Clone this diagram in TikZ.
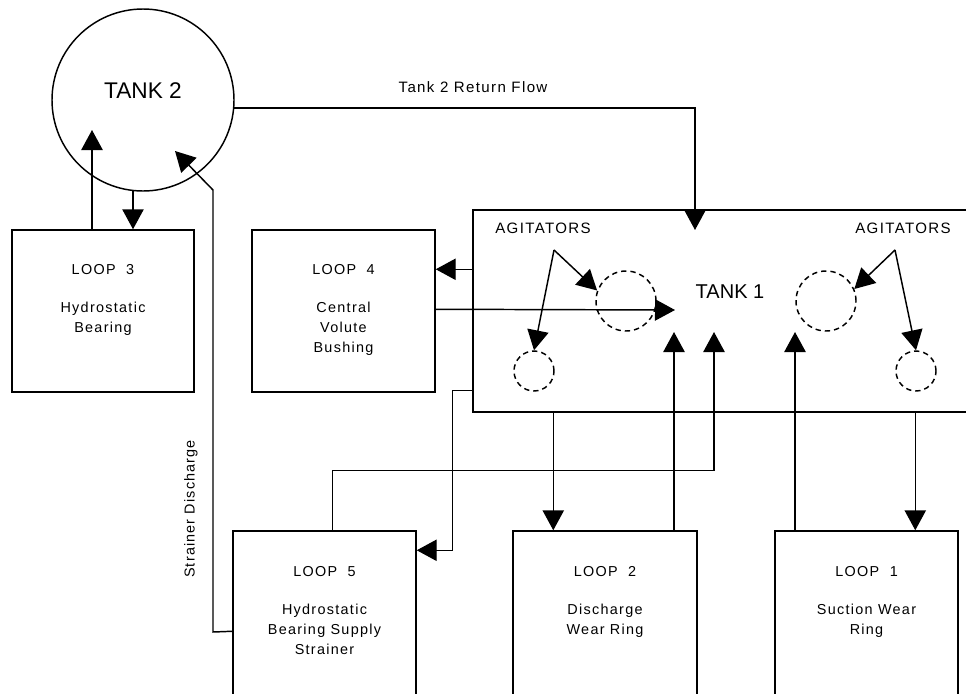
\documentclass[tikz,border=0pt]{standalone}
\usepackage{fontspec}
\setmainfont{Liberation Sans}
\usetikzlibrary{arrows.meta,calc,fit}
\begin{document}
\begin{tikzpicture}[x=0.75pt,y=-0.75pt,line width=1.1pt,
  arr/.style={-{Triangle[length=15pt,width=16pt]}},
  box/.style={draw,inner sep=0pt},
  dcirc/.style={draw,circle,inner sep=0pt,dash pattern=on 4pt off 3pt},
  looptxt/.style={align=center,anchor=north,inner sep=0pt,
    font=\fontsize{10.8}{15}\selectfont\addfontfeatures{LetterSpace=9}},
  lbl/.style={inner sep=0pt,font=\fontsize{11.3}{13}\selectfont\addfontfeatures{LetterSpace=9}},
  bigtxt/.style={inner sep=0pt}]
\clip (0,0) rectangle (966,693);
% tanks
\node[draw,circle,inner sep=0pt,minimum size=136.5pt] (t2) at (143,100) {};
\node[bigtxt,font=\fontsize{17}{20}\selectfont] (t2lbl) at (143,91) {TANK 2};
\node[box,fit={(473,210) (975,412)}] (t1) {};
\node[bigtxt,font=\fontsize{15}{18}\selectfont] (t1lbl) at (730,292) {TANK 1};
% loop boxes
\node[box,fit={(12,230) (194,392)}] (l3) {};
\node[box,fit={(252,230) (435,392)}] (l4) {};
\node[box,fit={(233,531) (416,700)}] (l5) {};
\node[box,fit={(513,531) (697,700)}] (l2) {};
\node[box,fit={(775,531) (958,700)}] (l1) {};
\node[looptxt] (l3t) at ($(l3.north)+(0,34)$) {LOOP\ \ 3\\[14pt]Hydrostatic\\Bearing};
\node[looptxt] (l4t) at ($(l4.north)+(0,34)$) {LOOP\ \ 4\\[14pt]Central\\Volute\\Bushing};
\node[looptxt] (l5t) at ($(l5.north)+(0,35)$) {LOOP\ \ 5\\[14pt]Hydrostatic\\Bearing Supply\\Strainer};
\node[looptxt] (l2t) at ($(l2.north)+(0,35)$) {LOOP\ \ 2\\[14pt]Discharge\\Wear Ring};
\node[looptxt] (l1t) at ($(l1.north)+(0,35)$) {LOOP\ \ 1\\[14pt]Suction Wear\\Ring};
% agitators
\node[dcirc,minimum size=45pt] (lbig) at (626,301) {};
\node[dcirc,minimum size=30pt] (lsmall) at (534,371) {};
\node[dcirc,minimum size=45pt] (rbig) at (826,301) {};
\node[dcirc,minimum size=30pt] (rsmall) at (916,371) {};
\node[lbl] (agtl) at (543,228) {AGITATORS};
\node[lbl] (agtr) at (903,228) {AGITATORS};
\coordinate (agl) at (554,250);
\coordinate (agr) at (895,250);
\draw[arr] (agl) -- (lbig.160);
\draw[arr] (agl) -- (lsmall.north);
\draw[arr] (agr) -- (rbig.23);
\draw[arr] (agr) -- (rsmall.north);
% tank 2 / loop 3
\coordinate (t2in1) at (92,130);
\draw[arr] (t2in1 |- l3.north) -- (t2in1);
\coordinate (t2out) at ($(t2.center)+(-10,90.5)$);
\draw[arr] (t2out) -- (t2out |- l3.north);
% return flow
\coordinate (t2r) at ($(t2.center)+(90.6,8)$);
\coordinate (rtip) at (695,230);
\draw[arr] (t2r) -| (rtip);
\node[lbl] (rflbl) at (473,87) {Tank 2 Return Flow};
% strainer discharge
\coordinate (t2in2) at (175,151);
\draw[arr] ($(l5.north west)+(0,101)$) -- (213,632) -- (213,190) -- (t2in2);
\node[lbl,rotate=90,font=\fontsize{10.8}{13}\selectfont\addfontfeatures{LetterSpace=8}] (sdlbl) at (191,509) {Strainer Discharge};
% loop 4
\draw[arr] ($(t1.north west)+(0,60)$) -- ($(l4.north east)+(0,40)$);
\coordinate (t1in1) at (675,310);
\draw[arr] ($(l4.north east)+(0,80)$) -- (t1in1);
% loop 5
\draw[arr] ($(t1.north west)+(0,181)$) -- ++(-20,0) |- ($(l5.north east)+(0,20)$);
\coordinate (t1in2) at (714,332);
\draw[arr] ($(l5.north west)+(100,0)$) -- ++(0,-60) -| (t1in2);
% loop 2
\coordinate (l2in) at ($(l2.north west)+(41,0)$);
\draw[arr] (l2in |- t1.south) -- (l2in);
\coordinate (t1in3) at (674,332);
\draw[arr] (t1in3 |- l2.north) -- (t1in3);
% loop 1
\coordinate (t1in4) at (795,332);
\draw[arr] (t1in4 |- l1.north) -- (t1in4);
\coordinate (l1in) at ($(l1.north west)+(141,0)$);
\draw[arr] (l1in |- t1.south) -- (l1in);
\end{tikzpicture}
\end{document}
